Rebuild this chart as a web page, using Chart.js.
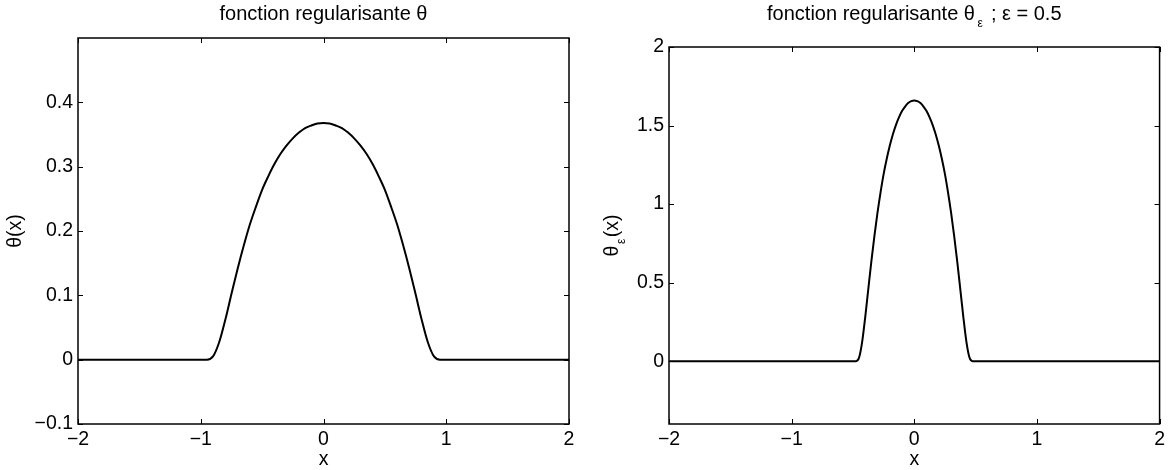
<!DOCTYPE html>
<html>
<head>
<meta charset="utf-8">
<script src="https://cdn.jsdelivr.net/npm/chart.js@4"></script>
<style>
  html, body { margin: 0; padding: 0; background: #fff; }
  #wrap { position: relative; width: 1169px; height: 470px; }
  .box { position: absolute; top: 0; height: 470px; }
</style>
</head>
<body>
<div id="wrap">
  <div class="box" style="left:0;width:590px"><canvas id="chartTheta"></canvas></div>
  <div class="box" style="left:590px;width:579px"><canvas id="chartThetaEps"></canvas></div>
</div>
<script>
/* fonction regularisante : theta et theta_eps */

const X_TICKS = [-2, -1, 0, 1, 2];

const THETA_X = [-2, -1, -0.95, -0.9, -0.85, -0.8, -0.75, -0.7, -0.65, -0.6, -0.55, -0.5, -0.45, -0.4, -0.35, -0.3, -0.25, -0.2, -0.15, -0.1, -0.05,
  0, 0.05, 0.1, 0.15, 0.2, 0.25, 0.3, 0.35, 0.4, 0.45, 0.5, 0.55, 0.6, 0.65, 0.7, 0.75, 0.8, 0.85, 0.9, 0.95, 1, 2];
const THETA_Y = [0, 0, 0, 0.005, 0.027, 0.062, 0.102, 0.141, 0.177, 0.210, 0.238, 0.264, 0.285, 0.304, 0.320, 0.333, 0.344, 0.353, 0.360, 0.364, 0.367,
  0.368, 0.367, 0.364, 0.360, 0.353, 0.344, 0.333, 0.320, 0.304, 0.285, 0.264, 0.238, 0.210, 0.177, 0.141, 0.102, 0.062, 0.027, 0.005, 0, 0, 0];
const THETA_Y_TICKS = [-0.1, 0, 0.1, 0.2, 0.3, 0.4];

const EPS_X = [-2, -0.5, -0.475, -0.45, -0.425, -0.4, -0.375, -0.35, -0.325, -0.3, -0.275, -0.25, -0.225, -0.2, -0.175, -0.15, -0.125, -0.1, -0.075, -0.05, -0.025,
  0, 0.025, 0.05, 0.075, 0.1, 0.125, 0.15, 0.175, 0.2, 0.225, 0.25, 0.275, 0.3, 0.325, 0.35, 0.375, 0.4, 0.425, 0.45, 0.475, 0.5, 2];
const EPS_Y = [0, 0, 0, 0.023, 0.123, 0.281, 0.459, 0.635, 0.798, 0.945, 1.075, 1.191, 1.287, 1.371, 1.443, 1.503, 1.552, 1.592, 1.621, 1.643, 1.655,
  1.66, 1.655, 1.643, 1.621, 1.592, 1.552, 1.503, 1.443, 1.371, 1.287, 1.191, 1.075, 0.945, 0.798, 0.635, 0.459, 0.281, 0.123, 0.023, 0, 0, 0];
const EPS_Y_TICKS = [0, 0.5, 1, 1.5, 2];

const FONT_FAMILY = '"Liberation Sans", Arial, Helvetica, sans-serif';
const FONT_SIZE = 19.5;
const TITLE_SIZE = 20;
const SUB_SIZE = 12;
const TICK = 5;

const fmt = (v) => String(v).replace("-", "\u2212");

function drawRich(ctx, parts, cx, y, size) {
  let total = 0;
  parts.forEach((p) => {
    ctx.font = (p.sub ? SUB_SIZE : size) + "px " + FONT_FAMILY;
    p.w = ctx.measureText(p.t).width + (p.gap || 0);
    total += p.w;
  });
  let x = cx - total / 2;
  ctx.textAlign = "left";
  ctx.textBaseline = "alphabetic";
  parts.forEach((p) => {
    ctx.font = (p.sub ? SUB_SIZE : size) + "px " + FONT_FAMILY;
    ctx.fillText(p.t, x + (p.gap || 0) / 2, y + (p.sub ? 7 : 0));
    x += p.w;
  });
}

// cadre type matlab : boite, graduations vers l'interieur, titre et label y
const matlabFrame = {
  id: "matlabFrame",
  afterDraw(chart, args, opts) {
    const { ctx, chartArea: a, scales } = chart;
    ctx.save();
    ctx.strokeStyle = "#000";
    ctx.fillStyle = "#000";
    ctx.lineWidth = 1;
    ctx.beginPath();
    scales.x.ticks.forEach((t) => {
      const px = Math.round(scales.x.getPixelForValue(t.value)) + 0.5;
      ctx.moveTo(px, a.bottom); ctx.lineTo(px, a.bottom - TICK);
      ctx.moveTo(px, a.top); ctx.lineTo(px, a.top + TICK);
    });
    scales.y.ticks.forEach((t) => {
      const py = Math.round(scales.y.getPixelForValue(t.value)) + 0.5;
      ctx.moveTo(a.left, py); ctx.lineTo(a.left + TICK, py);
      ctx.moveTo(a.right, py); ctx.lineTo(a.right - TICK, py);
    });
    ctx.stroke();
    ctx.lineWidth = 1.5;
    ctx.strokeRect(a.left, a.top, a.right - a.left, a.bottom - a.top);

    drawRich(ctx, opts.title, (a.left + a.right) / 2, opts.titleY, TITLE_SIZE);

    ctx.translate(opts.yLabelX, (a.top + a.bottom) / 2);
    ctx.rotate(-Math.PI / 2);
    drawRich(ctx, opts.yLabel, 0, 7, FONT_SIZE);
    ctx.restore();
  },
};

function makeChart(id, xs, ys, yMin, yMax, yTicks, frame, pad, yWidth) {
  const font = { family: FONT_FAMILY, size: FONT_SIZE };
  return new Chart(document.getElementById(id), {
    type: "scatter",
    data: {
      datasets: [{
        data: xs.map((x, i) => ({ x: x, y: ys[i] })),
        showLine: true,
        borderColor: "#000",
        borderWidth: 2,
        pointRadius: 0,
        cubicInterpolationMode: "monotone",
        fill: false,
      }],
    },
    options: {
      responsive: true,
      maintainAspectRatio: false,
      animation: false,
      layout: { padding: pad },
      plugins: { legend: { display: false }, tooltip: { enabled: false }, title: { display: false }, matlabFrame: frame },
      scales: {
        x: {
          type: "linear", min: -2, max: 2,
          afterBuildTicks: (s) => { s.ticks = X_TICKS.map((v) => ({ value: v })); },
          afterFit: (s) => { s.height = 46; },
          grid: { display: false, drawTicks: false }, border: { display: false },
          ticks: { color: "#000", font: font, padding: 4, maxRotation: 0, autoSkip: false, callback: fmt },
          title: { display: true, text: "x", color: "#000", font: font, padding: { top: 0, bottom: -1 } },
        },
        y: {
          type: "linear", min: yMin, max: yMax,
          afterBuildTicks: (s) => { s.ticks = yTicks.map((v) => ({ value: v })); },
          afterFit: (s) => { s.width = yWidth; },
          grid: { display: false, drawTicks: false }, border: { display: false },
          ticks: { color: "#000", font: font, padding: 5, autoSkip: false, callback: fmt },
        },
      },
    },
    plugins: [matlabFrame],
  });
}

makeChart("chartTheta", THETA_X, THETA_Y, -0.1, 0.5, THETA_Y_TICKS,
  { title: [{ t: "fonction regularisante \u03b8" }], titleY: 20, yLabel: [{ t: "\u03b8(x)" }], yLabelX: 14 },
  { top: 38, right: 21, bottom: 0, left: 0 }, 78);

makeChart("chartThetaEps", EPS_X, EPS_Y, -0.4, 2, EPS_Y_TICKS,
  { title: [{ t: "fonction regularisante \u03b8" }, { t: "\u03b5", sub: true, gap: 5 }, { t: " ; \u03b5 = 0.5" }], titleY: 20,
    yLabel: [{ t: "\u03b8" }, { t: "\u03b5", sub: true, gap: 3 }, { t: "(x)" }], yLabelX: 21 },
  { top: 47, right: 9, bottom: 0, left: 0 }, 79);
</script>
</body>
</html>
